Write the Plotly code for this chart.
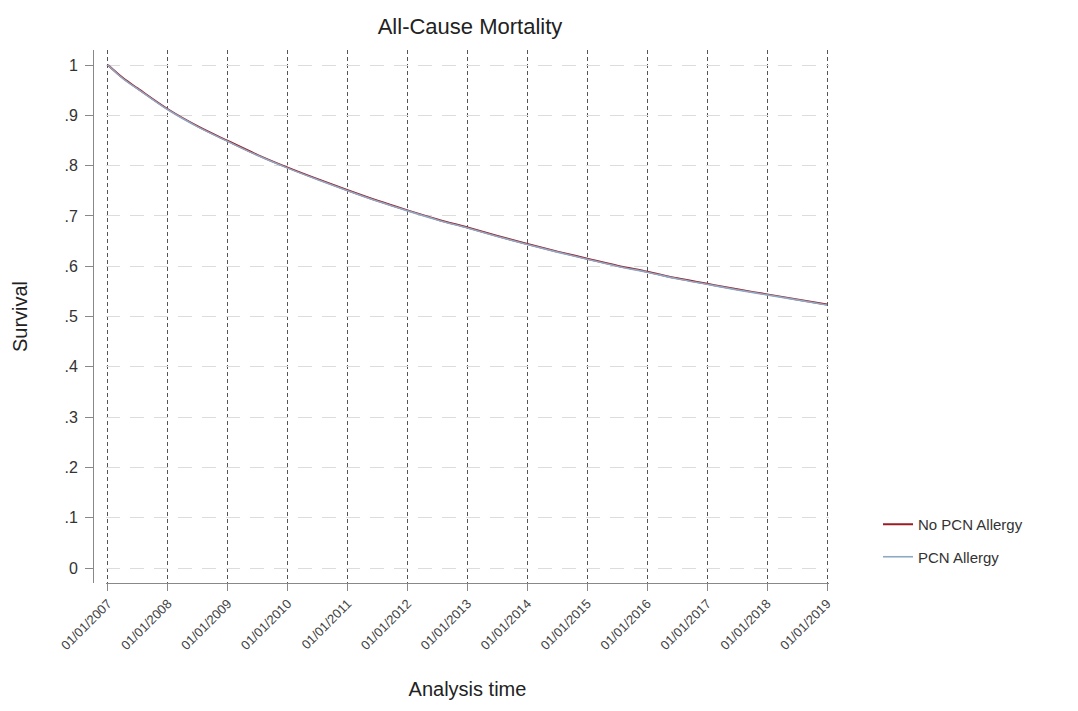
import plotly.graph_objects as go

# Data (time in years since 01/01/2007)
time_years = [2007.0, 2007.25, 2007.5, 2008.0, 2008.5, 2009.0, 2009.5, 2010.0, 2010.5, 2011.0,
              2011.5, 2012.0, 2012.5, 2013.0, 2013.5, 2014.0, 2014.5, 2015.0, 2015.5,
              2016.0, 2016.5, 2017.0, 2017.5, 2018.0, 2018.5, 2019.0]
no_pcn_allergy = [1.000, 0.974, 0.953, 0.912, 0.878, 0.849, 0.821, 0.796, 0.773, 0.751,
                  0.730, 0.711, 0.693, 0.677, 0.660, 0.644, 0.629, 0.615, 0.601,
                  0.589, 0.576, 0.565, 0.554, 0.544, 0.534, 0.524]
pcn_allergy = [1.000, 0.973, 0.952, 0.911, 0.877, 0.848, 0.820, 0.795, 0.772, 0.750,
               0.729, 0.710, 0.692, 0.676, 0.659, 0.643, 0.628, 0.614, 0.600,
               0.588, 0.575, 0.564, 0.553, 0.543, 0.533, 0.523]
tick_years = list(range(2007, 2020))
tick_labels = ["01/01/%d" % y for y in tick_years]
y_ticks = [0, 0.1, 0.2, 0.3, 0.4, 0.5, 0.6, 0.7, 0.8, 0.9, 1.0]
y_labels = ["0", ".1", ".2", ".3", ".4", ".5", ".6", ".7", ".8", ".9", "1"]

W, H = 1078, 711
ml, mr, mt, mb = 93, 249, 50, 128
pw = W - ml - mr
yr_per_px = 12 / 721.0

fig = go.Figure()
fig.add_trace(go.Scatter(x=time_years, y=no_pcn_allergy, mode="lines", name="No PCN Allergy",
                         line=dict(color="#9b1c24", width=2, shape="spline"),
                         legendgroup="a"))
fig.add_trace(go.Scatter(x=time_years, y=pcn_allergy, mode="lines", name="PCN Allergy",
                         line=dict(color="#8fa9c4", width=1.6, shape="spline"),
                         legendgroup="b"))

font_fam = "Liberation Sans, Arial, sans-serif"
fig.update_layout(
    width=W, height=H,
    margin=dict(l=ml, r=mr, t=mt, b=mb),
    paper_bgcolor="white", plot_bgcolor="white",
    font=dict(family=font_fam, color="#333333"),
    title=dict(text="All-Cause Mortality", x=(470) / W, xanchor="center", y=1 - 26 / H,
               yanchor="middle", font=dict(size=22, color="#222222")),
    xaxis=dict(
        domain=[(13) / pw, 1.0],
        range=[2007 - 2 * yr_per_px, 2019 + 2 * yr_per_px],
        tickmode="array", tickvals=tick_years, ticktext=tick_labels,
        tickangle=-45, tickfont=dict(size=13, color="#444444"),
        showgrid=True, gridcolor="#555555", gridwidth=1, griddash="4px,3px",
        showline=True, linecolor="#888888", linewidth=1,
        ticks="outside", ticklen=7, tickcolor="#888888",
        zeroline=False,
        title=dict(text="Analysis time", font=dict(size=20, color="#222222"), standoff=30),
    ),
    yaxis=dict(
        anchor="free", position=0,
        range=[-15 / 503, 1 + 15 / 503],
        tickmode="array", tickvals=y_ticks, ticktext=y_labels,
        tickfont=dict(size=16, color="#333333"), ticklabelstandoff=4,
        showgrid=True, gridcolor="#dcdcdc", gridwidth=1, griddash="14px,10px",
        showline=True, linecolor="#888888", linewidth=1,
        ticks="outside", ticklen=8, tickcolor="#888888",
        zeroline=False,
        title=dict(text="Survival", font=dict(size=20, color="#222222"), standoff=30),
    ),
    legend=dict(x=(878 - ml) / pw, y=(H - mb - 508) / (H - mt - mb), xanchor="left", yanchor="top",
                font=dict(size=15, color="#333333"), traceorder="grouped", tracegroupgap=10,
                bgcolor="rgba(0,0,0,0)"),
    showlegend=True,
)

fig.write_html("out.html")
